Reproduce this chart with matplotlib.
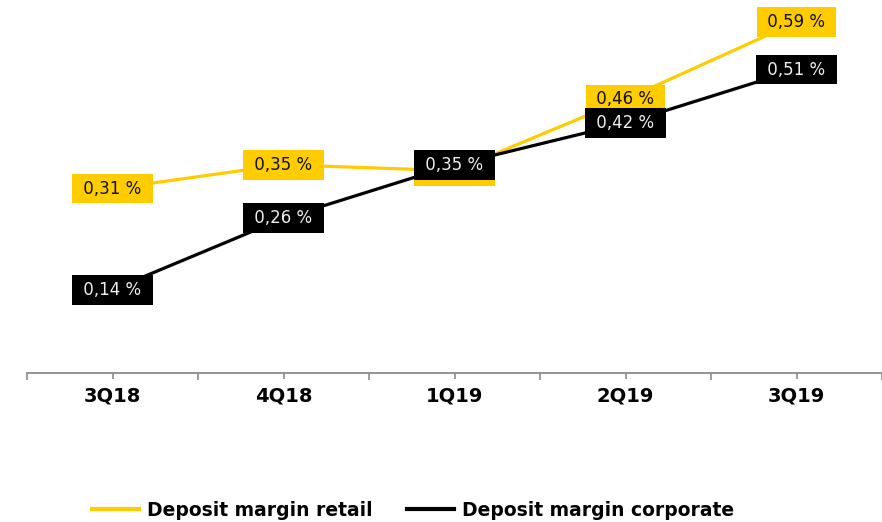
import matplotlib
matplotlib.use("Agg")
import matplotlib.pyplot as plt
from matplotlib.lines import Line2D

categories = ["3Q18", "4Q18", "1Q19", "2Q19", "3Q19"]
retail = [0.31, 0.35, 0.34, 0.46, 0.59]
corporate = [0.14, 0.26, 0.35, 0.42, 0.51]
retail_labels = ["0,31 %", "0,35 %", "0,35 %", "0,46 %", "0,59 %"]
corporate_labels = ["0,14 %", "0,26 %", "0,35 %", "0,42 %", "0,51 %"]

YELLOW = "#FFCC00"
BLACK = "#000000"

fig = plt.figure(figsize=(8.82, 5.22), dpi=100)
ax = fig.add_axes([27/882, 149/522, 855/882, 373/522])

x = list(range(len(categories)))
ax.plot(x, retail, color=YELLOW, lw=2.3, zorder=2, solid_capstyle="butt")
ax.plot(x, corporate, color=BLACK, lw=2.3, zorder=2, solid_capstyle="butt")

for xi, v, t in zip(x, retail, retail_labels):
    ax.text(xi, v, f" {t} ", ha="center", va="center", fontsize=12,
            family="DejaVu Sans", color="#111111", zorder=3,
            bbox=dict(boxstyle="square,pad=0.35", fc=YELLOW, ec="none"))
for xi, v, t in zip(x, corporate, corporate_labels):
    ax.text(xi, v, f" {t} ", ha="center", va="center", fontsize=12,
            family="DejaVu Sans", color="#EEEEEE", zorder=4,
            bbox=dict(boxstyle="square,pad=0.35", fc=BLACK, ec="none"))

ax.set_xlim(-0.5, len(categories) - 0.5)
ax.set_ylim(0, 0.627)
for s in ["top", "right", "left"]:
    ax.spines[s].set_visible(False)
ax.spines["bottom"].set_color("#8C8C8C")
ax.spines["bottom"].set_linewidth(1.3)
ax.set_yticks([])
ax.set_xticks(x)
ax.set_xticklabels(categories, fontsize=14, fontweight="bold", family="DejaVu Sans")
ax.set_xticks([i - 0.5 for i in range(len(categories) + 1)], minor=True)
ax.tick_params(axis="x", which="major", length=4, width=1.2, color="#8C8C8C", pad=5.5)
ax.tick_params(axis="x", which="minor", length=5, width=1.2, color="#8C8C8C")

handles = [Line2D([], [], color=YELLOW, lw=3),
           Line2D([], [], color=BLACK, lw=3)]
fig.legend(handles, ["Deposit margin retail", "Deposit margin corporate"],
           loc="center", bbox_to_anchor=(413/882, 1 - 510/522), ncol=2,
           frameon=False, prop=dict(family="DejaVu Sans", weight="bold", size=13.5),
           handlelength=2.5, handletextpad=0.45, columnspacing=1.8)

fig.savefig("out.png", dpi=100)
